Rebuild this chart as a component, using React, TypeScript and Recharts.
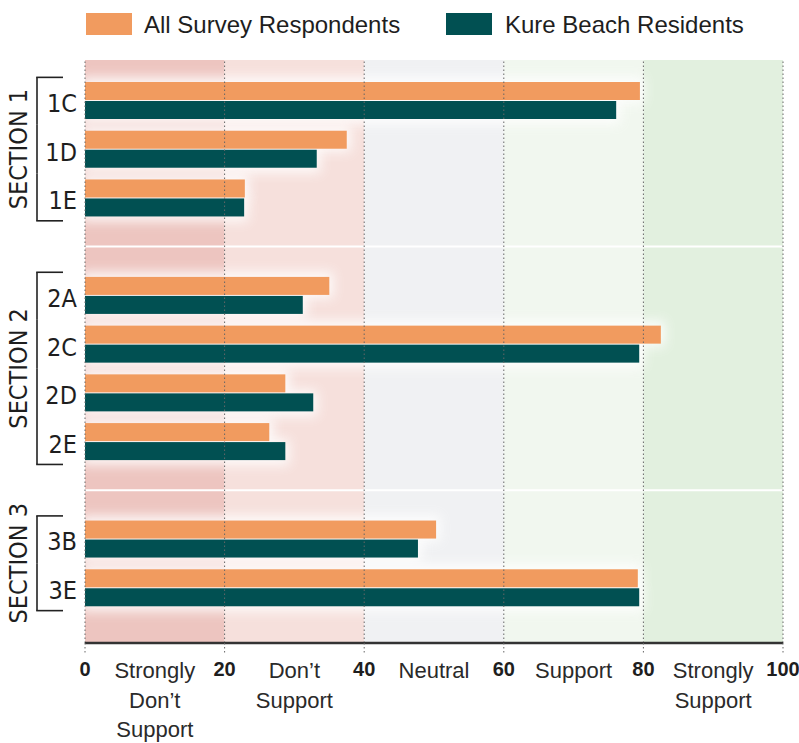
import React from 'react';
import { BarChart, Bar, XAxis, YAxis, ReferenceArea, ReferenceLine } from 'recharts';

// ---- data ----
const categories = ['1C', '1D', '1E', 'gap1', '2A', '2C', '2D', '2E', 'gap2', '3B', '3E'];
const sections = ['SECTION 1', 'SECTION 1', 'SECTION 1', '', 'SECTION 2', 'SECTION 2', 'SECTION 2', 'SECTION 2', '', 'SECTION 3', 'SECTION 3'];
const allSurveyRespondents = [79.5, 37.5, 22.9, null, 35.0, 82.5, 28.7, 26.4, null, 50.3, 79.2];
const kureBeachResidents = [76.1, 33.2, 22.8, null, 31.2, 79.4, 32.7, 28.7, null, 47.7, 79.4];
const seriesNames = ['All Survey Respondents', 'Kure Beach Residents'];
const zoneBounds = [0, 20, 40, 60, 80, 100];
const zoneLabels = [['Strongly', 'Don\u2019t', 'Support'], ['Don\u2019t', 'Support'], ['Neutral'], ['Support'], ['Strongly', 'Support']];

// ---- styles ----
const ORANGE = '#F19B5F';
const TEAL = '#015052';
const zoneColors = ['#EDC5C0', '#F6E0DC', '#F0F1F3', '#F1F7EF', '#E2F0DF'];
const TEXT = '#1e1e1e';
const NARROW = "'Liberation Sans Narrow', 'DejaVu Sans Condensed', 'Roboto Condensed', 'Liberation Sans', sans-serif";
const SANS = "'Liberation Sans', Arial, sans-serif";

const W = 799;
const H = 743;
const XAXIS_H = 30;
const M = { top: 60, right: 16, bottom: 100 - XAXIS_H, left: 0 };
const PAD_TOP = 16;
const PAD_BOTTOM = 31;
const PLOT_H = H - M.top - M.bottom - XAXIS_H;
const STEP = (PLOT_H - PAD_TOP - PAD_BOTTOM) / categories.length;

const data = categories.map((c, i) => ({
  category: c,
  all: allSurveyRespondents[i],
  kure: kureBeachResidents[i],
}));

const zoneMids = zoneBounds.slice(0, -1).map((b, i) => (b + zoneBounds[i + 1]) / 2);
const xTicks = [...zoneBounds, ...zoneMids].sort((a, b) => a - b);

const OrangeShape = (props: any) => {
  const { x, y, width, height, fill, payload } = props;
  if (!width || width <= 0) return null;
  const tealW = payload && payload.all ? (width * payload.kure) / payload.all : width;
  return (
    <g>
      <rect x={x - 4} y={y - 5} width={width + 8} height={height + 8} fill="#fff" opacity={0.85} style={{ filter: 'blur(6px)' }} />
      <rect x={x - 4} y={y + height - 2} width={tealW + 8} height={height + 8} fill="#fff" opacity={0.85} style={{ filter: 'blur(6px)' }} />
      <rect x={x} y={y} width={width} height={height} fill={fill} />
    </g>
  );
};

const TealShape = (props: any) => {
  const { x, y, width, height, fill } = props;
  if (!width || width <= 0) return null;
  return <rect x={x} y={y} width={width} height={height} fill={fill} />;
};

const YTick = (props: any) => {
  const { x, y, payload } = props;
  const i = categories.indexOf(payload.value);
  const sec = sections[i];
  if (!sec) return null;
  const members = sections.map((s, j) => (s === sec ? j : -1)).filter((j) => j >= 0);
  const k = members.indexOf(i);
  const n = members.length;
  const isFirst = k === 0;
  const isLast = k === n - 1;
  const top = isFirst ? y - 23 : y - STEP / 2;
  const bot = isLast ? y + 23 : y + STEP / 2;
  const bx = 37;
  const showLabel = k === Math.floor((n - 1) / 2);
  const ly = y + ((n - 1) / 2 - k) * STEP;
  return (
    <g>
      <text x={x} y={y} dy={3} textAnchor="end" dominantBaseline="central" fontSize={25} fontFamily={NARROW} fill={TEXT}>
        {payload.value}
      </text>
      <line x1={bx} x2={bx} y1={top} y2={bot} stroke="#222" strokeWidth={1.6} />
      {isFirst && <line x1={bx - 0.8} x2={63} y1={top} y2={top} stroke="#222" strokeWidth={1.6} />}
      {isLast && <line x1={bx - 0.8} x2={63} y1={bot} y2={bot} stroke="#222" strokeWidth={1.6} />}
      {showLabel && (
        <text
          x={19}
          y={ly}
          transform={`rotate(-90 19 ${ly})`}
          textAnchor="middle"
          dominantBaseline="central"
          fontSize={25}
          fontFamily={NARROW}
          fill={TEXT}
        >
          {sec}
        </text>
      )}
    </g>
  );
};

const XTick = (props: any) => {
  const { x, y, payload } = props;
  const v = payload.value;
  const bi = zoneBounds.indexOf(v);
  if (bi >= 0) {
    return (
      <g>
        <line x1={x} x2={x} y1={y} y2={y + 11} stroke="#666" strokeDasharray="1.5 2.5" />
        <text x={x} y={y + 33} textAnchor="middle" fontSize={20} fontWeight="bold" fontFamily={SANS} fill={TEXT}>
          {v}
        </text>
      </g>
    );
  }
  const zi = zoneMids.indexOf(v);
  const lines = zoneLabels[zi] || [];
  return (
    <text x={x} y={y + 35} textAnchor="middle" fontSize={22} fontFamily={SANS} fill="#2a2a2a">
      {lines.map((t, j) => (
        <tspan key={j} x={x} dy={j === 0 ? 0 : 29.5}>
          {t}
        </tspan>
      ))}
    </text>
  );
};

export default function App() {
  return (
    <div style={{ position: 'absolute', left: 0, top: 0, width: W, height: H, background: '#fff' }}>
      <svg width={W} height={50} style={{ position: 'absolute', left: 0, top: 0 }}>
        <rect x={86} y={13} width={46} height={22} fill={ORANGE} />
        <text x={144} y={33} fontSize={24} fontFamily={SANS} fill={TEXT}>
          {seriesNames[0]}
        </text>
        <rect x={446} y={13} width={46} height={22} fill={TEAL} />
        <text x={505} y={33} fontSize={24} fontFamily={SANS} fill={TEXT}>
          {seriesNames[1]}
        </text>
      </svg>
      <div style={{ position: 'absolute', left: 0, top: 0 }}>
        <BarChart width={W} height={H} data={data} layout="vertical" margin={M} barSize={18} barGap={1}>
          {zoneColors.map((c, i) => (
            <ReferenceArea
              key={'z' + i}
              yAxisId="bg"
              x1={zoneBounds[i]}
              x2={zoneBounds[i + 1]}
              fill={c}
              fillOpacity={1}
              stroke="none"
            />
          ))}
          <ReferenceLine y="gap1" stroke="#fff" strokeWidth={2} />
          <ReferenceLine y="gap2" stroke="#fff" strokeWidth={2} />
          {zoneBounds.map((b) => (
            <ReferenceLine key={'g' + b} yAxisId="bg" x={b} stroke="#666" strokeDasharray="1.5 2.5" />
          ))}
          <XAxis
            type="number"
            domain={[0, 100]}
            ticks={xTicks}
            interval={0}
            height={XAXIS_H}
            tick={<XTick />}
            tickLine={false}
            tickSize={0}
            tickMargin={0}
            axisLine={{ stroke: '#333', strokeWidth: 2.5 }}
            allowDecimals
          />
          <YAxis
            type="category"
            dataKey="category"
            width={85}
            tick={<YTick />}
            tickLine={false}
            axisLine={false}
            tickSize={0}
            tickMargin={8}
            interval={0}
            padding={{ top: PAD_TOP, bottom: PAD_BOTTOM }}
          />
          <YAxis yAxisId="bg" type="number" domain={[0, 1]} allowDataOverflow hide width={0} />
          <Bar dataKey="all" name={seriesNames[0]} fill={ORANGE} shape={<OrangeShape />} isAnimationActive={false} />
          <Bar dataKey="kure" name={seriesNames[1]} fill={TEAL} shape={<TealShape />} isAnimationActive={false} />
        </BarChart>
      </div>
    </div>
  );
}
